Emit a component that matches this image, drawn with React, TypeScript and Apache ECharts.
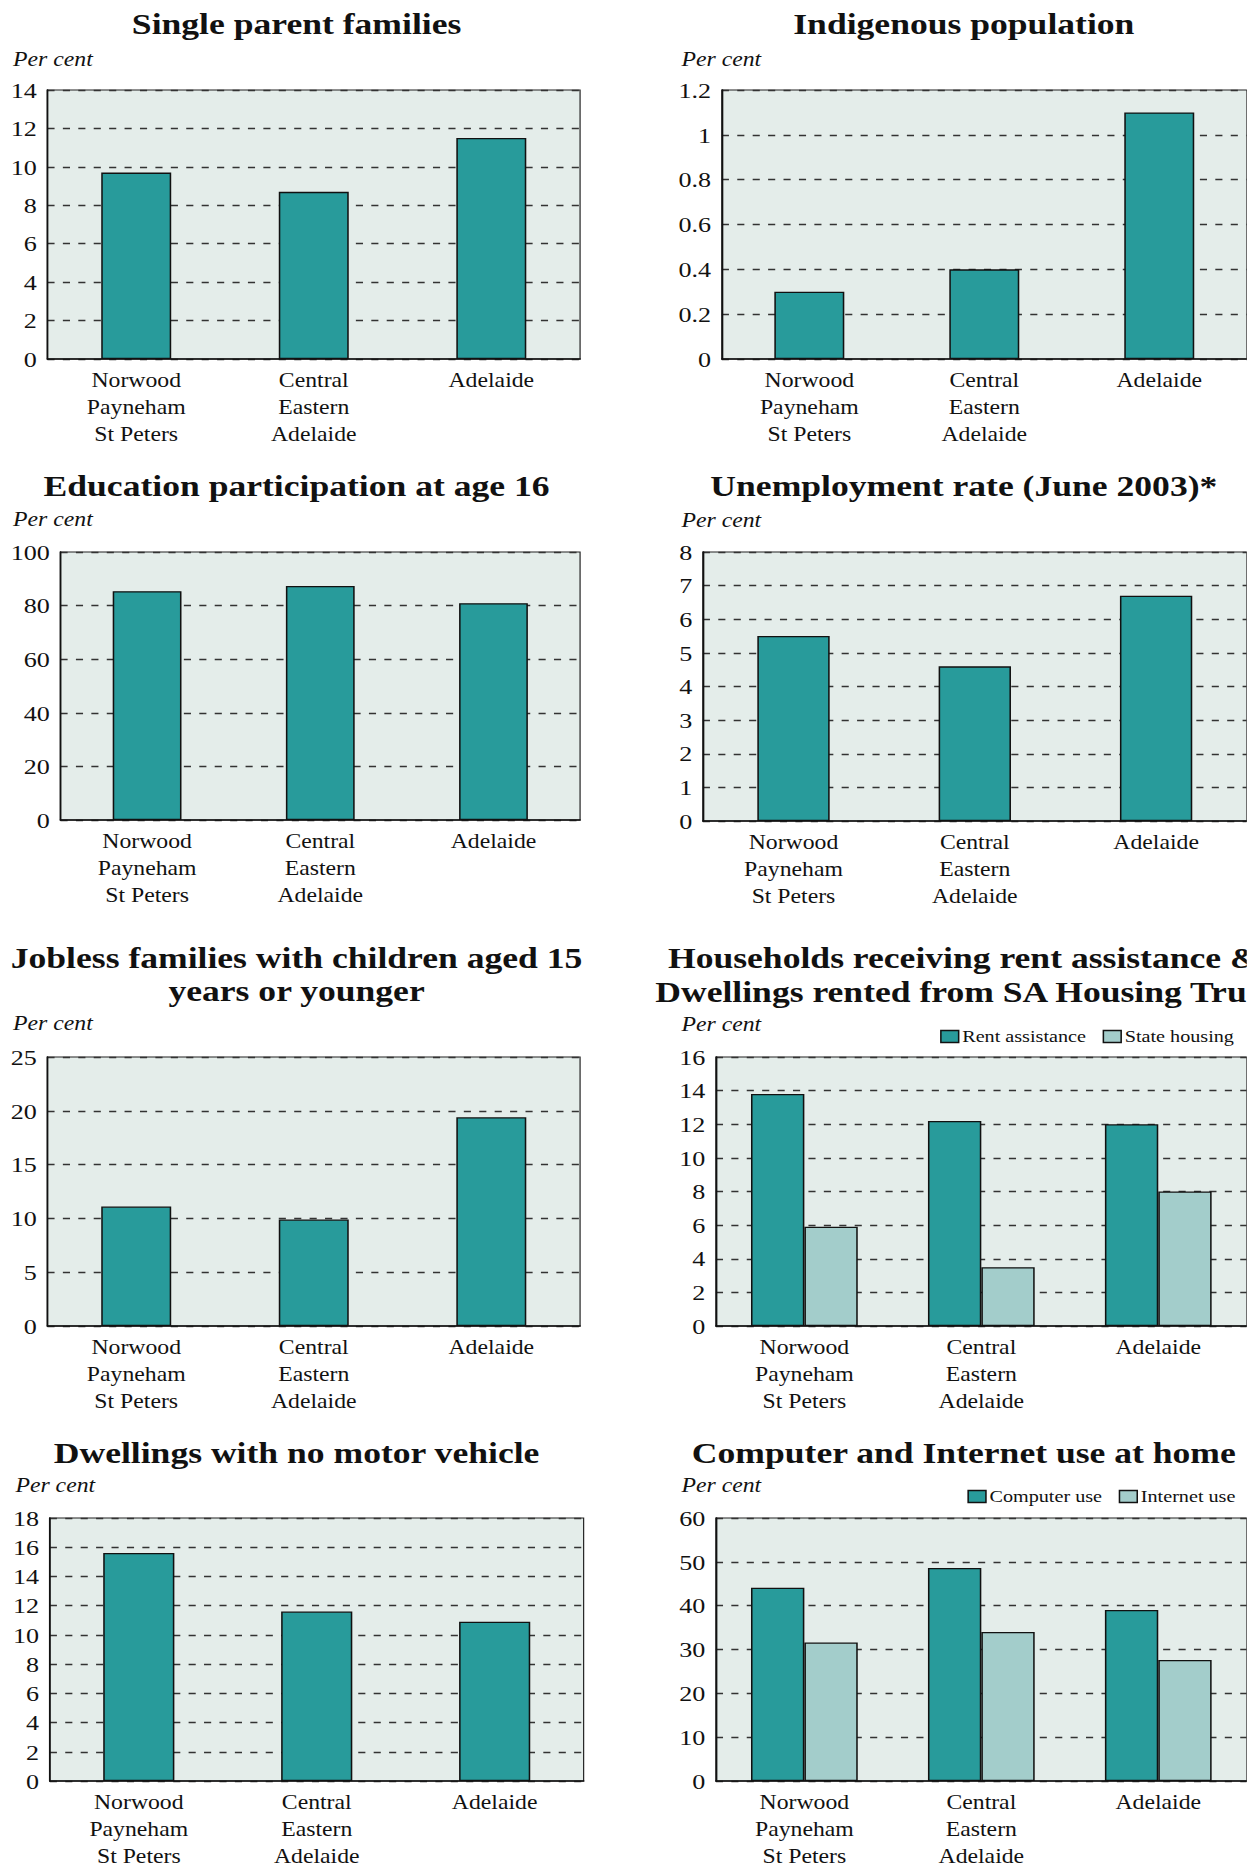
import React, { useEffect, useRef } from "react";
import * as echarts from "echarts";

const CATEGORIES = ["Norwood\nPayneham\nSt Peters", "Central\nEastern\nAdelaide", "Adelaide"];

const singleParent = [9.7, 8.7, 11.5];
const indigenous = [0.3, 0.4, 1.1];
const education = [85.4, 87.3, 80.9];
const unemployment = [5.5, 4.6, 6.7];
const jobless = [11.1, 9.9, 19.4];
const rentAssistance = [13.8, 12.2, 12.0];
const stateHousing = [5.9, 3.5, 8.0];
const noVehicle = [15.6, 11.6, 10.9];
const computerUse = [44.1, 48.6, 39.0];
const internetUse = [31.6, 34.0, 27.6];

const TEAL = "#289b9b";
const LIGHT = "#a3cdcb";
const BG = "#e4edea";
const INK = "#111111";
const FONT = "Liberation Serif";

// The reference artwork is horizontally stretched; the chart is laid out on a
// narrower canvas and widened with a CSS scaleX so glyphs match its proportions.
const STRETCH = 1.18625;
const PAGE_W = 1247;
const PAGE_H = 1870;
const CANVAS_W = PAGE_W / STRETCH;

type Panel = {
  title: string[];
  titleX: number;
  titleY: number[];
  perX: number;
  perY: number;
  grid: { left: number; top: number; width: number; height: number };
  max: number;
  interval: number;
  barWidth: number;
  series: { name: string; data: number[]; color: string }[];
  legend?: { left: number; top: number };
};

const panels: Panel[] = [
  {
    title: ["Single parent families"], titleX: 250, titleY: [24], perX: 11, perY: 59,
    grid: { left: 40, top: 90, width: 449, height: 269 }, max: 14, interval: 2, barWidth: 59,
    series: [{ name: "Single parent families", data: singleParent, color: TEAL }],
  },
  {
    title: ["Indigenous population"], titleX: 812.5, titleY: [24], perX: 574.5, perY: 59,
    grid: { left: 608.5, top: 90, width: 446, height: 269 }, max: 1.2, interval: 0.2, barWidth: 59,
    series: [{ name: "Indigenous population", data: indigenous, color: TEAL }],
  },
  {
    title: ["Education participation at age 16"], titleX: 250, titleY: [486], perX: 11, perY: 519,
    grid: { left: 51, top: 552, width: 438, height: 268 }, max: 100, interval: 20, barWidth: 58,
    series: [{ name: "Education participation at age 16", data: education, color: TEAL }],
  },
  {
    title: ["Unemployment rate (June 2003)*"], titleX: 812.5, titleY: [486], perX: 574.5, perY: 520,
    grid: { left: 592.5, top: 552, width: 461, height: 269 }, max: 8, interval: 1, barWidth: 61,
    series: [{ name: "Unemployment rate", data: unemployment, color: TEAL }],
  },
  {
    title: ["Jobless families with children aged 15", "years or younger"], titleX: 250, titleY: [958, 991], perX: 11, perY: 1023,
    grid: { left: 40, top: 1057, width: 449, height: 269 }, max: 25, interval: 5, barWidth: 59,
    series: [{ name: "Jobless families", data: jobless, color: TEAL }],
  },
  {
    title: ["Households receiving rent assistance &", "Dwellings rented from SA Housing Trust"], titleX: 812.5, titleY: [958, 992], perX: 574.5, perY: 1024,
    grid: { left: 603.5, top: 1057, width: 450, height: 269 }, max: 16, interval: 2, barWidth: 45,
    series: [
      { name: "Rent assistance", data: rentAssistance, color: TEAL },
      { name: "State housing", data: stateHousing, color: LIGHT },
    ],
    legend: { left: 792.5, top: 1028 },
  },
  {
    title: ["Dwellings with no motor vehicle"], titleX: 250, titleY: [1453], perX: 13, perY: 1485,
    grid: { left: 42, top: 1518, width: 450, height: 268 }, max: 18, interval: 2, barWidth: 60,
    series: [{ name: "Dwellings with no motor vehicle", data: noVehicle, color: TEAL }],
  },
  {
    title: ["Computer and Internet use at home"], titleX: 812.5, titleY: [1453], perX: 574.5, perY: 1485,
    grid: { left: 603.5, top: 1518, width: 450, height: 268 }, max: 60, interval: 10, barWidth: 45,
    series: [
      { name: "Computer use", data: computerUse, color: TEAL },
      { name: "Internet use", data: internetUse, color: LIGHT },
    ],
    legend: { left: 815.5, top: 1488 },
  },
];

function buildOption() {
  const grid: any[] = [];
  const xAxis: any[] = [];
  const yAxis: any[] = [];
  const series: any[] = [];
  const legend: any[] = [];
  const graphic: any[] = [];

  const dashed = { show: true, lineStyle: { color: "#333", width: 1.3, type: [6, 7] } };
  const solidLine = { show: true, lineStyle: { color: INK, width: 1.5 } };
  const yLabel = { show: true, fontFamily: FONT, fontSize: 22, color: INK, margin: 9 };
  const xLabel = { fontFamily: FONT, fontSize: 20, lineHeight: 27, color: INK, margin: 8, interval: 0 };

  panels.forEach((p, i) => {
    grid.push({
      left: p.grid.left, top: p.grid.top, width: p.grid.width, height: p.grid.height,
      show: true, backgroundColor: BG, borderColor: "#222", borderWidth: 1,
    });
    xAxis.push({
      type: "category", gridIndex: i, data: CATEGORIES, axisTick: { show: false },
      axisLine: solidLine, axisLabel: xLabel, splitLine: { show: false },
    });
    yAxis.push({
      type: "value", gridIndex: i, min: 0, max: p.max, interval: p.interval,
      axisLabel: yLabel, axisLine: solidLine, axisTick: { show: false }, splitLine: dashed,
    });
    p.series.forEach((s) => {
      series.push({
        type: "bar", name: s.name, xAxisIndex: i, yAxisIndex: i,
        data: s.data, barWidth: p.barWidth, barGap: "0%",
        itemStyle: { color: s.color, borderColor: INK, borderWidth: 1.3 },
      });
    });

    p.title.forEach((t, k) => {
      graphic.push({
        type: "text", x: p.titleX, y: p.titleY[k], silent: true,
        style: {
          text: t, fontFamily: FONT, fontWeight: "bold", fontSize: 30, fill: INK,
          textAlign: "center", textVerticalAlign: "middle",
        },
      });
    });
    graphic.push({
      type: "text", x: p.perX, y: p.perY, silent: true,
      style: {
        text: "Per cent", fontFamily: FONT, fontStyle: "italic", fontSize: 20, fill: INK,
        textAlign: "left", textVerticalAlign: "middle",
      },
    });

    if (p.legend) {
      legend.push({
        data: p.series.map((s) => s.name), left: p.legend.left, top: p.legend.top,
        orient: "horizontal", icon: "rect", itemWidth: 15, itemHeight: 12, itemGap: 14, padding: 0,
        selectedMode: false,
        itemStyle: { borderColor: INK, borderWidth: 1.3 },
        textStyle: { fontFamily: FONT, fontSize: 17, color: INK, padding: [0, 0, 0, -2] },
      });
    }
  });

  return {
    animation: false,
    backgroundColor: "#ffffff",
    grid, xAxis, yAxis, series, legend, graphic,
  };
}

export default function App() {
  const ref = useRef<HTMLDivElement>(null);
  useEffect(() => {
    if (!ref.current) return;
    const chart = echarts.init(ref.current, undefined, { renderer: "svg" });
    chart.setOption(buildOption() as any);
    return () => chart.dispose();
  }, []);
  return (
    <div
      style={{
        position: "absolute", left: 0, top: 0, width: PAGE_W, height: PAGE_H,
        overflow: "hidden", background: "#fff",
      }}
    >
      <div
        ref={ref}
        style={{
          width: CANVAS_W, height: PAGE_H,
          transform: `scale(${STRETCH}, 1)`, transformOrigin: "0 0",
        }}
      />
    </div>
  );
}
